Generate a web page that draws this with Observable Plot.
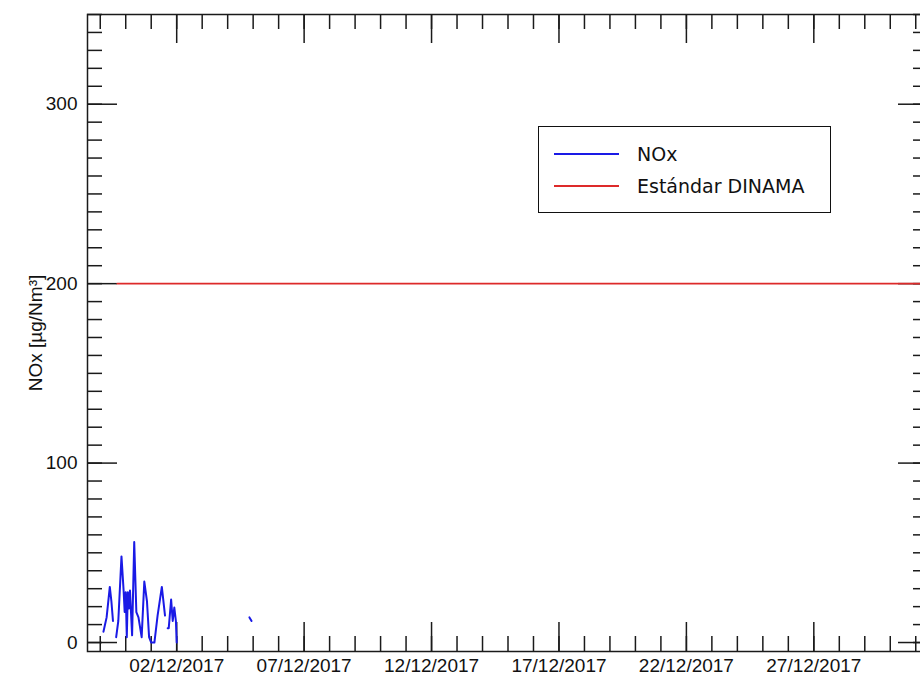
<!DOCTYPE html>
<html><head><meta charset="utf-8">
<script src="https://cdn.jsdelivr.net/npm/d3@7"></script>
<script src="https://cdn.jsdelivr.net/npm/@observablehq/plot@0.6"></script>
<style>
html,body{margin:0;padding:0;overflow:hidden;background:#fff;}
#wrap{position:relative;width:920px;height:677px;overflow:hidden;}
#wrap svg{max-width:none;display:block;}
#legend{position:absolute;left:538px;top:126px;width:291px;height:85px;border:1.5px solid #111;background:#fff;font-family:"DejaVu Sans",sans-serif;font-size:19px;color:#111;}
.row{position:absolute;left:0;height:30px;display:flex;align-items:center;white-space:nowrap;}
.sw{display:inline-block;width:65px;height:2px;margin-left:15px;}
.lab{margin-left:18px;}
</style></head><body><div id="wrap"><div id="legend"></div></div>
<script>
// NOx hourly concentration; null = gap
const noxTimes = [
  "2017-11-29T03:00","2017-11-29T06:00","2017-11-29T09:00","2017-11-29T10:30","2017-11-29T12:00",
  "2017-11-29T13:30",
  "2017-11-29T15:00","2017-11-29T17:00","2017-11-29T20:00","2017-11-29T22:00","2017-11-29T23:00",
  "2017-11-30T00:00","2017-11-30T01:00","2017-11-30T02:00","2017-11-30T03:00","2017-11-30T04:00",
  "2017-11-30T06:00","2017-11-30T08:00","2017-11-30T10:00","2017-11-30T12:00","2017-11-30T15:00",
  "2017-11-30T17:30","2017-11-30T20:00","2017-11-30T22:00","2017-12-01T00:00","2017-12-01T03:00",
  "2017-12-01T06:00","2017-12-01T10:00","2017-12-01T13:00",
  "2017-12-01T14:00",
  "2017-12-01T15:30","2017-12-01T16:30","2017-12-01T18:45","2017-12-01T20:15","2017-12-01T21:45",
  "2017-12-01T23:15","2017-12-02T00:00",
  "2017-12-03T12:00",
  "2017-12-04T20:30","2017-12-04T22:30"
];
const noxValues = [
  6, 14, 31, 23, 12,
  null,
  3, 12, 48, 29, 17,
  28, 3, 28, 19, 29,
  4, 56, 17, 14, 3,
  34, 23, 3, 0, 0,
  15, 31, 15,
  null,
  8, 8, 24, 12, 19.5,
  12, 0,
  null,
  14, 12
];
const standardTimes = ["2017-11-29T16:00", "2017-12-31T12:00"];
const standardValues = [200, 200];

const xDomain = ["2017-11-28T12:00", "2017-12-31T12:00"];
const yDomain = [-5, 350];
const yMajorTicks = [0, 100, 200, 300];
const yMinorTicks = [0,10,20,30,40,50,60,70,80,90,100,110,120,130,140,150,160,170,180,190,200,210,220,230,240,250,260,270,280,290,300,310,320,330,340,350];
const xMajorTicks = ["2017-12-02T00:00","2017-12-07T00:00","2017-12-12T00:00","2017-12-17T00:00","2017-12-22T00:00","2017-12-27T00:00"];
const xTickLabels = ["02/12/2017","07/12/2017","12/12/2017","17/12/2017","22/12/2017","27/12/2017"];
const yLabel = "NOx [µg/Nm³]";
const legendLabels = ["NOx", "Estándar DINAMA"];
const seriesColors = ["#1a1ae6", "#dd2a2a"];

const parse = s => new Date(s + ":00Z");
const nox = noxTimes.map((t, i) => ({date: parse(t), value: noxValues[i]}));
const std = standardTimes.map((t, i) => ({date: parse(t), value: standardValues[i]}));
const xd = xDomain.map(parse);
const xMajor = xMajorTicks.map(parse);
const xMinor = d3.utcDay.range(xd[0], xd[1]);
const labelMap = new Map(xMajor.map((d, i) => [+d, xTickLabels[i]]));

// layout
const W = 930, H = 677, mL = 87, mR = 2, mT = 14, mB = 26;
const plotW = W - mL - mR, plotH = H - mT - mB;
const majorLen = 30, minorLen = 15;

const font = "Liberation Sans, Arial, sans-serif";
const tk = {stroke: "#1a1a1a", strokeWidth: 1.5};

const chart = Plot.plot({
  width: W, height: H,
  marginLeft: mL, marginRight: mR, marginTop: mT, marginBottom: mB,
  style: {fontFamily: font, fontSize: "19px", color: "#111", background: "#fff", maxWidth: "none"},
  x: {type: "utc", domain: xd},
  y: {domain: yDomain},
  marks: [
    Plot.axisY(yMajorTicks, {anchor: "left", tickSize: 0, tickPadding: 10, fontSize: 19, label: yLabel, labelAnchor: "center", labelArrow: "none", labelOffset: 59}),
    Plot.axisX(xMajor, {anchor: "bottom", tickSize: 0, tickPadding: 7, fontSize: 19, tickFormat: d => labelMap.get(+d), label: null}),
    // inward ticks on all four sides
    Plot.tickY(yMajorTicks, {y: d => d, insetRight: plotW - majorLen, ...tk}),
    Plot.tickY(yMinorTicks, {y: d => d, insetRight: plotW - minorLen, ...tk}),
    Plot.tickY(yMajorTicks, {y: d => d, insetLeft: plotW - majorLen, ...tk}),
    Plot.tickY(yMinorTicks, {y: d => d, insetLeft: plotW - minorLen, ...tk}),
    Plot.tickX(xMajor, {x: d => d, insetTop: plotH - majorLen + 1, ...tk}),
    Plot.tickX(xMinor, {x: d => d, insetTop: plotH - minorLen, ...tk}),
    Plot.tickX(xMajor, {x: d => d, insetBottom: plotH - majorLen + 1, ...tk}),
    Plot.tickX(xMinor, {x: d => d, insetBottom: plotH - minorLen, ...tk}),
    Plot.frame({stroke: "#1a1a1a", strokeWidth: 1.5}),
    Plot.lineY(std, {x: "date", y: "value", stroke: seriesColors[1], strokeWidth: 1.6}),
    Plot.lineY(nox, {x: "date", y: "value", stroke: seriesColors[0], strokeWidth: 2, strokeLinejoin: "round"})
  ]
});
const wrap = document.getElementById("wrap");
wrap.insertBefore(chart, wrap.firstChild);

const legend = d3.select("#legend");
legendLabels.forEach((lab, i) => {
  const row = legend.append("div").attr("class", "row").style("top", (12 + i * 32) + "px");
  row.append("span").attr("class", "sw").style("background", seriesColors[i]);
  row.append("span").attr("class", "lab").text(lab);
});
</script>
</body></html>
